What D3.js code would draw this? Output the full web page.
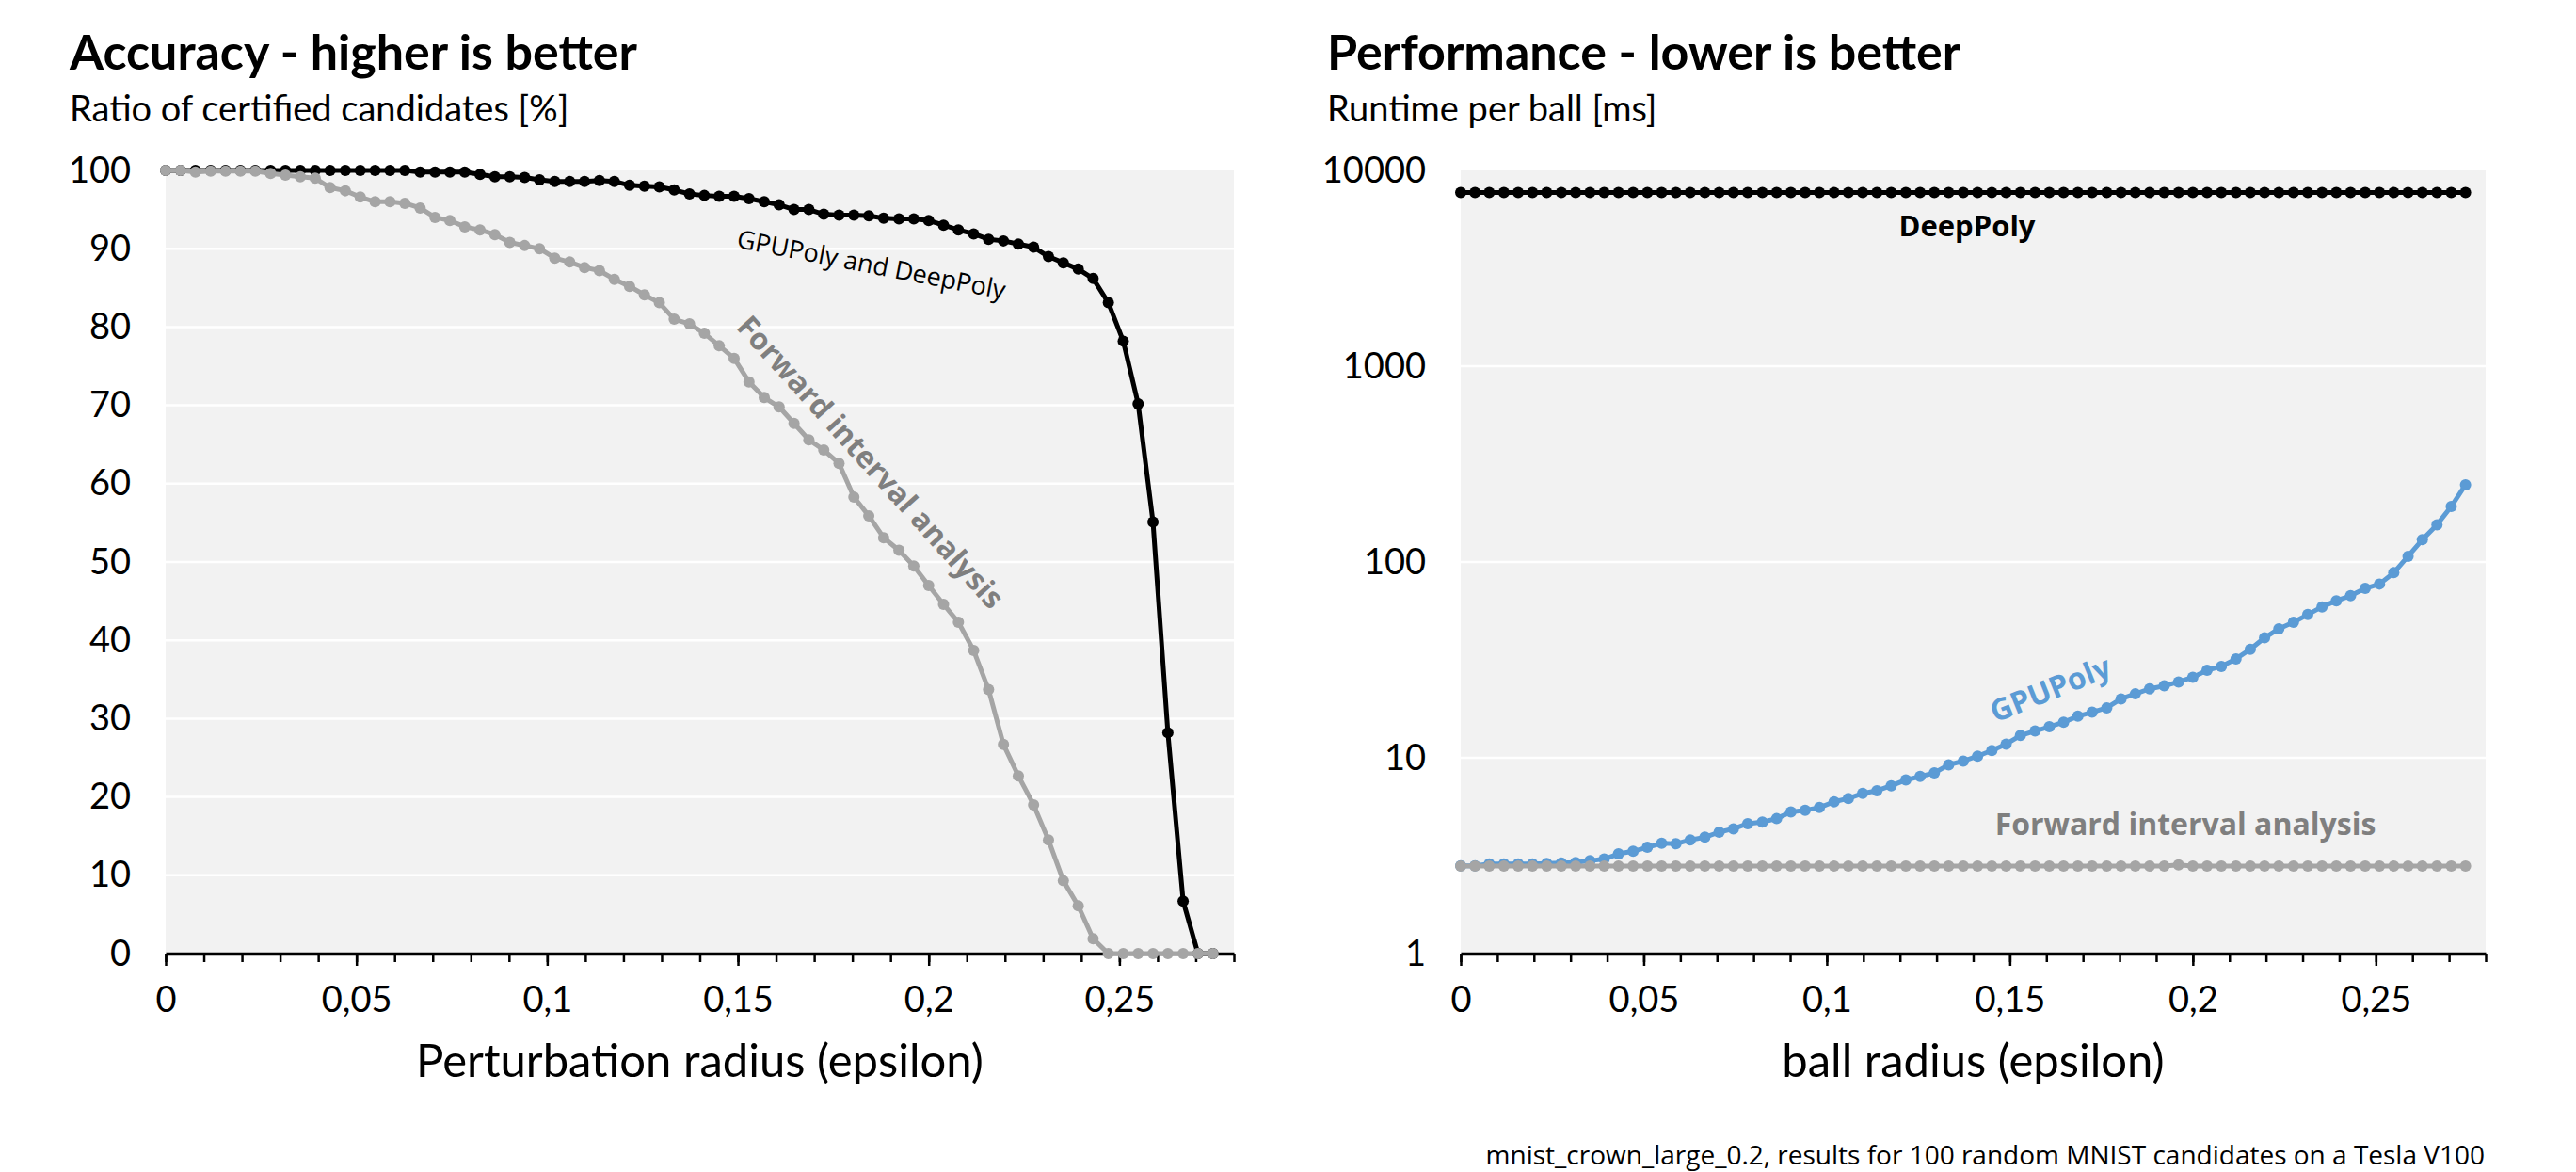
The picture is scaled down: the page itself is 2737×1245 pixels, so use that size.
<!DOCTYPE html>
<html>
<head>
<meta charset="utf-8">
<script src="https://cdn.jsdelivr.net/npm/d3@7"></script>
<style>
  html, body { margin: 0; padding: 0; background: #fff; }
  svg { display: block; }
</style>
</head>
<body>
<svg id="chart" width="2737" height="1245"></svg>
<script>
// epsilon steps of 1/255
const epsilon = [0, 0.0039, 0.0078, 0.0118, 0.0157, 0.0196, 0.0235, 0.0275, 0.0314, 0.0353,
  0.0392, 0.0431, 0.0471, 0.0510, 0.0549, 0.0588, 0.0627, 0.0667, 0.0706, 0.0745,
  0.0784, 0.0824, 0.0863, 0.0902, 0.0941, 0.0980, 0.1020, 0.1059, 0.1098, 0.1137,
  0.1176, 0.1216, 0.1255, 0.1294, 0.1333, 0.1373, 0.1412, 0.1451, 0.1490, 0.1529,
  0.1569, 0.1608, 0.1647, 0.1686, 0.1725, 0.1765, 0.1804, 0.1843, 0.1882, 0.1922,
  0.1961, 0.2000, 0.2039, 0.2078, 0.2118, 0.2157, 0.2196, 0.2235, 0.2275, 0.2314,
  0.2353, 0.2392, 0.2431, 0.2471, 0.2510, 0.2549, 0.2588, 0.2627, 0.2667, 0.2706,
  0.2745]

// accuracy [%]
const accuracyPoly = [100, 100, 100, 100, 100, 100, 100, 100, 100, 100,
  100, 100, 100, 100, 100, 100, 100, 99.8, 99.8, 99.8,
  99.8, 99.5, 99.2, 99.2, 99.1, 98.8, 98.6, 98.6, 98.6, 98.7,
  98.6, 98.1, 98.0, 97.9, 97.5, 97.0, 96.8, 96.7, 96.7, 96.4,
  96.0, 95.6, 95.0, 95.0, 94.4, 94.3, 94.3, 94.2, 93.9, 93.8,
  93.8, 93.6, 93.0, 92.4, 91.9, 91.2, 91.0, 90.6, 90.2, 89.0,
  88.2, 87.4, 86.2, 83.1, 78.2, 70.2, 55.1, 28.2, 6.7, 0,
  0]
const accuracyInterval = [100, 100, 99.8, 99.9, 99.9, 99.9, 99.9, 99.6, 99.4, 99.2,
  99.0, 97.8, 97.4, 96.6, 96.0, 96.0, 95.8, 95.2, 94.0, 93.6,
  92.8, 92.4, 91.8, 90.8, 90.4, 90.0, 88.8, 88.3, 87.6, 87.2,
  86.1, 85.2, 84.1, 83.1, 81.0, 80.4, 79.2, 77.6, 76.0, 73.0,
  71.0, 69.8, 67.7, 65.6, 64.3, 62.6, 58.3, 55.9, 53.1, 51.5,
  49.5, 47.0, 44.6, 42.3, 38.7, 33.7, 26.7, 22.7, 19.0, 14.5,
  9.3, 6.1, 1.9, 0, 0, 0, 0, 0, 0, 0,
  0]

// runtime per ball [ms]
const runtimeDeepPoly = [7700, 7700, 7700, 7700, 7700, 7700, 7700, 7700, 7700, 7700,
  7700, 7700, 7700, 7700, 7700, 7700, 7700, 7700, 7700, 7700,
  7700, 7700, 7700, 7700, 7700, 7700, 7700, 7700, 7700, 7700,
  7700, 7700, 7700, 7700, 7700, 7700, 7700, 7700, 7700, 7700,
  7700, 7700, 7700, 7700, 7700, 7700, 7700, 7700, 7700, 7700,
  7700, 7700, 7700, 7700, 7700, 7700, 7700, 7700, 7700, 7700,
  7700, 7700, 7700, 7700, 7700, 7700, 7700, 7700, 7700, 7700,
  7700]
const runtimeGpuPoly = [2.81, 2.81, 2.87, 2.87, 2.87, 2.87, 2.89, 2.90, 2.92, 2.98,
  3.04, 3.23, 3.33, 3.49, 3.66, 3.64, 3.81, 3.93, 4.17, 4.34,
  4.61, 4.70, 4.89, 5.29, 5.40, 5.57, 5.96, 6.20, 6.58, 6.79,
  7.2, 7.7, 8.03, 8.38, 9.21, 9.62, 10.2, 10.9, 11.75, 13.0,
  13.7, 14.4, 15.2, 16.3, 17.1, 18.0, 20.0, 21.2, 22.5, 23.3,
  24.4, 25.8, 28.0, 29.3, 32.0, 35.8, 41.0, 45.6, 49.2, 53.9,
  59.0, 63.4, 67.3, 73.3, 77.2, 88.2, 107, 130, 155, 192,
  248]
const runtimeInterval = [2.8, 2.8, 2.8, 2.8, 2.8, 2.8, 2.8, 2.8, 2.8, 2.8,
  2.8, 2.8, 2.8, 2.8, 2.8, 2.8, 2.8, 2.8, 2.8, 2.8,
  2.8, 2.8, 2.8, 2.8, 2.8, 2.8, 2.8, 2.8, 2.8, 2.8,
  2.8, 2.8, 2.8, 2.8, 2.8, 2.8, 2.8, 2.8, 2.8, 2.8,
  2.8, 2.8, 2.8, 2.8, 2.8, 2.8, 2.8, 2.8, 2.8, 2.8,
  2.84, 2.8, 2.8, 2.8, 2.8, 2.8, 2.8, 2.8, 2.8, 2.8,
  2.8, 2.8, 2.8, 2.8, 2.8, 2.8, 2.8, 2.8, 2.8, 2.8,
  2.8]

const accuracyTicks = [0, 10, 20, 30, 40, 50, 60, 70, 80, 90, 100]
const runtimeTicks = [1, 10, 100, 1000, 10000]
const epsilonTicks = [0, 0.05, 0.1, 0.15, 0.2, 0.25]
const epsilonMinorTicks = [0, 0.01, 0.02, 0.03, 0.04, 0.05, 0.06, 0.07, 0.08, 0.09, 0.1,
  0.11, 0.12, 0.13, 0.14, 0.15, 0.16, 0.17, 0.18, 0.19, 0.2,
  0.21, 0.22, 0.23, 0.24, 0.25, 0.26, 0.27, 0.28]

const GILL = 'Lato, "Noto Sans", sans-serif'
const CALIBRI = '"Open Sans", "Noto Sans", sans-serif'
const plotTop = 181, plotBottom = 1013

const svg = d3.select('#chart')
const commaFormat = d => String(d).replace('.', ',')

function drawPanel(opts) {
  const g = svg.append('g')
  const x = d3.scaleLinear().domain([0, 0.28]).range([opts.left, opts.right])
  const y = opts.y

  g.append('rect')
    .attr('x', opts.left).attr('y', plotTop)
    .attr('width', opts.right - opts.left).attr('height', plotBottom - plotTop)
    .attr('fill', '#f2f2f2')

  // white gridlines
  g.selectAll('.grid').data(opts.yTicks.slice(1, -1)).join('line')
    .attr('x1', opts.left).attr('x2', opts.right)
    .attr('y1', d => y(d)).attr('y2', d => y(d))
    .attr('stroke', '#fff').attr('stroke-width', 2.5)

  // y labels, no axis line
  const yAxis = g.append('g').attr('transform', `translate(${opts.left},0)`)
    .call(d3.axisLeft(y).tickValues(opts.yTicks).tickSize(0).tickPadding(37).tickFormat(d => d))
  yAxis.select('.domain').remove()
  yAxis.selectAll('text').attr('font-family', GILL).attr('font-size', 38).attr('fill', '#000')

  // x axis: minor ticks then major ticks with labels
  g.append('g').attr('transform', `translate(0,${plotBottom})`)
    .call(d3.axisBottom(x).tickValues(epsilonMinorTicks).tickSize(9).tickSizeOuter(0).tickFormat(''))
    .call(a => a.selectAll('line').attr('stroke', '#000').attr('stroke-width', 2.5))
    .call(a => a.select('.domain').attr('stroke', '#000').attr('stroke-width', 3.5))
  const xAxis = g.append('g').attr('transform', `translate(0,${plotBottom})`)
    .call(d3.axisBottom(x).tickValues(epsilonTicks).tickSize(13).tickSizeOuter(0).tickPadding(22).tickFormat(commaFormat))
  xAxis.select('.domain').remove()
  xAxis.selectAll('line').attr('stroke', '#000').attr('stroke-width', 2.5)
  xAxis.selectAll('text').attr('font-family', GILL).attr('font-size', 38).attr('fill', '#000')

  // titles
  svg.append('text').attr('x', opts.titleX).attr('y', 74)
    .attr('font-family', GILL).attr('font-weight', 700).attr('font-size', 52)
    .text(opts.title)
  svg.append('text').attr('x', opts.titleX).attr('y', 129)
    .attr('font-family', GILL).attr('font-size', 38)
    .text(opts.subtitle)
  svg.append('text').attr('x', (opts.left + opts.right) / 2).attr('y', 1144)
    .attr('text-anchor', 'middle')
    .attr('font-family', GILL).attr('font-size', 49)
    .text(opts.xTitle)

  return { g, x, y }
}

function drawSeries(panel, values, color, width) {
  const pts = epsilon.map((e, i) => [e, values[i]])
  const line = d3.line().x(d => panel.x(d[0])).y(d => panel.y(d[1]))
  panel.g.append('path').datum(pts)
    .attr('d', line).attr('fill', 'none')
    .attr('stroke', color).attr('stroke-width', width).attr('stroke-linejoin', 'round')
  panel.g.append('g').selectAll('circle').data(pts).join('circle')
    .attr('cx', d => panel.x(d[0])).attr('cy', d => panel.y(d[1]))
    .attr('r', 6).attr('fill', color)
}

function label(x, y, angle, text, color, weight, size) {
  svg.append('text')
    .attr('transform', `translate(${x},${y}) rotate(${angle})`)
    .attr('text-anchor', 'middle').attr('dominant-baseline', 'central')
    .attr('font-family', CALIBRI).attr('font-weight', weight).attr('font-size', size)
    .attr('fill', color)
    .text(text)
}

// left: accuracy
const accuracy = drawPanel({
  left: 176, right: 1311,
  y: d3.scaleLinear().domain([0, 100]).range([plotBottom, plotTop]),
  yTicks: accuracyTicks,
  titleX: 74,
  title: 'Accuracy - higher is better',
  subtitle: 'Ratio of certified candidates [%]',
  xTitle: 'Perturbation radius (epsilon)'
})
drawSeries(accuracy, accuracyPoly, '#000000', 5)
drawSeries(accuracy, accuracyInterval, '#a5a5a5', 5)
label(926, 280, 11, 'GPUPoly and DeepPoly', '#000', 400, 27)
label(926, 490, 48, 'Forward interval analysis', '#7f7f7f', 700, 32)

// right: performance
const runtime = drawPanel({
  left: 1552, right: 2641,
  y: d3.scaleLog().domain([1, 10000]).range([plotBottom, plotTop]),
  yTicks: runtimeTicks,
  titleX: 1410,
  title: 'Performance - lower is better',
  subtitle: 'Runtime per ball [ms]',
  xTitle: 'ball radius (epsilon)'
})
drawSeries(runtime, runtimeDeepPoly, '#000000', 5)
drawSeries(runtime, runtimeGpuPoly, '#5b9bd5', 5)
drawSeries(runtime, runtimeInterval, '#a5a5a5', 5)
label(2090, 239, 0, 'DeepPoly', '#000', 700, 31)
label(2178, 731, -22, 'GPUPoly', '#5b9bd5', 700, 32)
label(2322, 874, 0, 'Forward interval analysis', '#7f7f7f', 700, 32)

svg.append('text').attr('x', 2640).attr('y', 1237)
  .attr('text-anchor', 'end')
  .attr('font-family', CALIBRI).attr('font-size', 28)
  .text('mnist_crown_large_0.2, results for 100 random MNIST candidates on a Tesla V100')
</script>
</body>
</html>
